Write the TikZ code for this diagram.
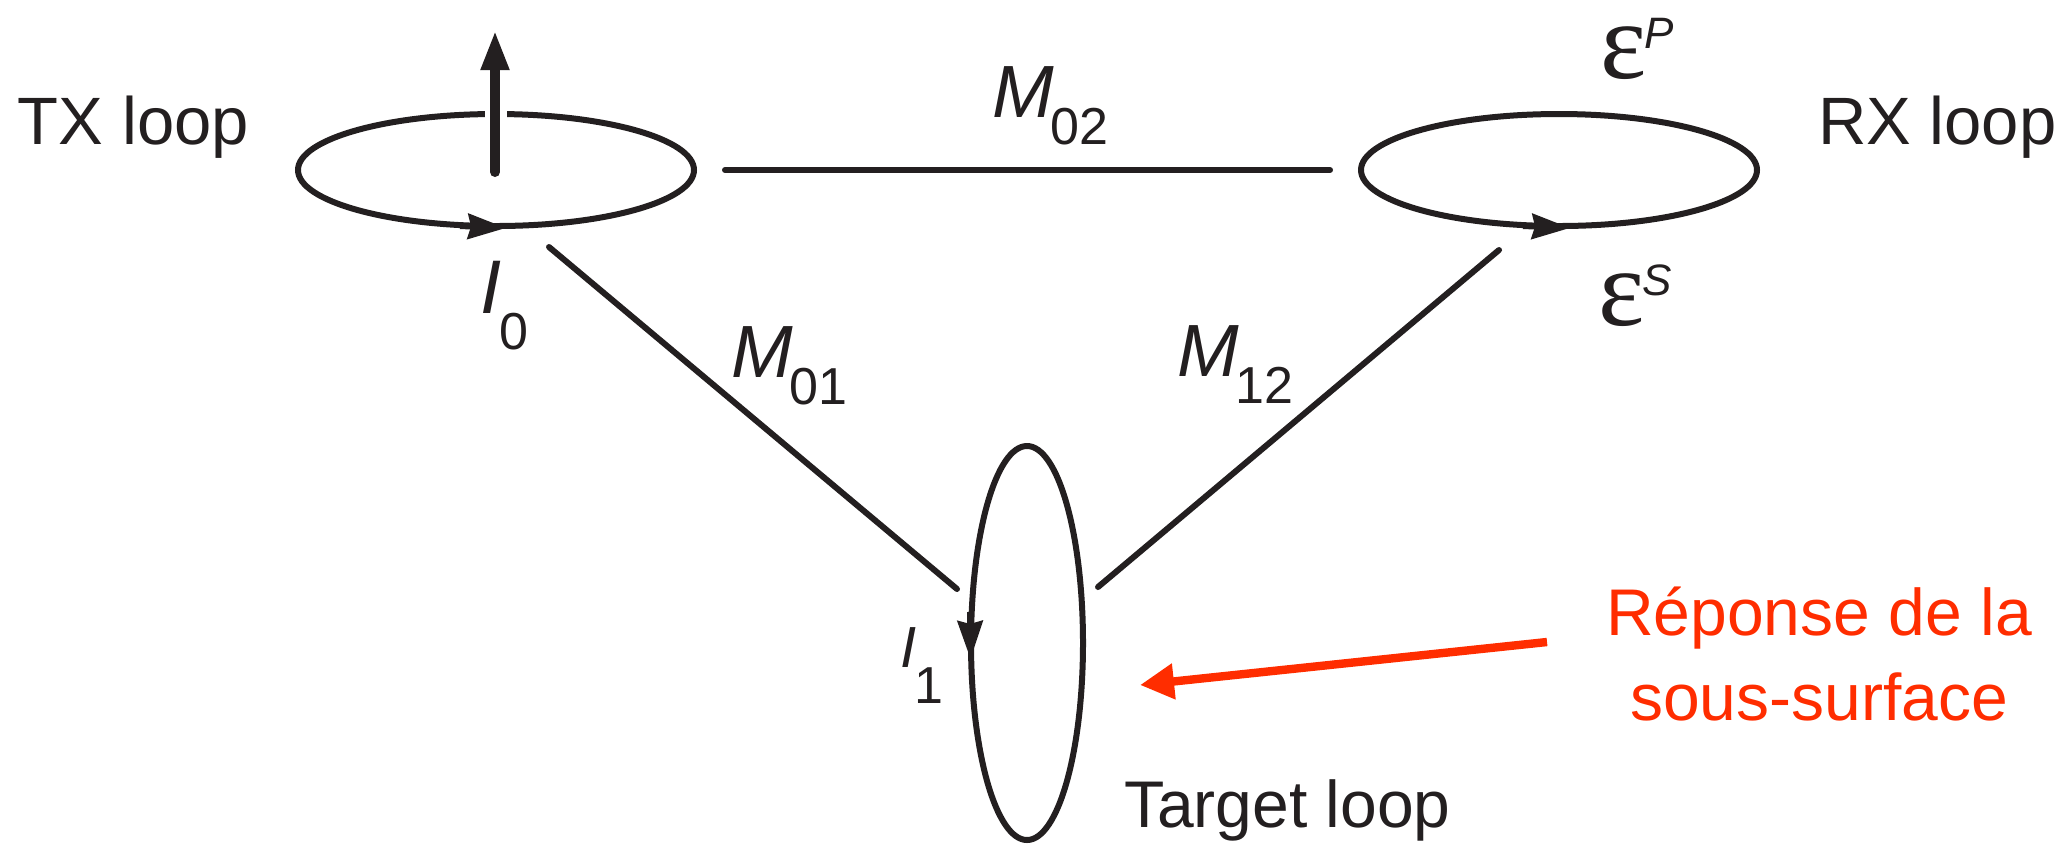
\documentclass[tikz,border=0pt]{standalone}
\usepackage{fontspec}
\setmainfont{Liberation Sans}
\newfontfamily\epsfont{Liberation Serif}
\usetikzlibrary{arrows.meta,shapes.geometric}
\definecolor{ink}{HTML}{231F20}
\definecolor{redmark}{HTML}{FF2D00}
\newcommand{\fs}[1]{\fontsize{#1}{#1}\selectfont}
\newcommand{\mlabel}[2]{{\fs{37}\itshape M}\kern-1.5pt\raisebox{-13.5pt}{\fs{26}#2}}
\newcommand{\ilabel}[3]{{\fs{#3}\itshape I}\kern#2\raisebox{-18pt}{\fs{26}#1}}
\newcommand{\emf}[1]{{\epsfont\fs{55}ε}\kern-1pt\raisebox{15pt}{\fs{22}\itshape #1}}
\tikzset{
  txt/.style={inner sep=0pt,outer sep=0pt,anchor=base west,text=ink},
  redtxt/.style={inner sep=0pt,outer sep=0pt,anchor=base,text=redmark,font=\fs{33}},
  flatloop/.style={draw=ink,line width=3pt,ellipse,inner sep=0pt,outer sep=0pt,minimum width=198pt,minimum height=56pt},
  tallloop/.style={draw=ink,line width=3pt,ellipse,inner sep=0pt,outer sep=0pt,minimum width=56pt,minimum height=197pt},
  link/.style={draw=ink,line width=3pt,line cap=round},
  curarrow/.style={draw=ink,line width=3pt,-{Stealth[length=19pt,width=12.5pt,inset=1.5pt]}},
  moment/.style={draw=ink,line width=5pt,line cap=round,-{Stealth[length=20pt,width=13pt,inset=0pt]}},
  response/.style={draw=redmark,line width=4.2pt,-{Triangle[length=17pt,width=17pt]}}
}
\begin{document}
\begin{tikzpicture}[x=0.5pt,y=-0.5pt]
\useasboundingbox (0,0) rectangle (2071,843);
\node[flatloop] (tx) at (496,170) {};
\node[flatloop] (rx) at (1559,170) {};
\node[tallloop] (target) at (1027,643) {};
% gap in the TX loop where the moment arrow crosses
\coordinate (gapa) at (496,100);
\coordinate (gapb) at (496,125);
\draw[white,line width=11pt] (gapa) -- (gapb);
\coordinate (mbase) at (495,172);
\coordinate (mtip) at (495,30);
\draw[moment] (mbase) -- (mtip);
% current arrows
\coordinate (ia0) at (460,226);
\coordinate (ib0) at (506,228);
\draw[curarrow] (ia0) -- (ib0);
\coordinate (ia2) at (1523,226);
\coordinate (ib2) at (1570,228);
\draw[curarrow] (ia2) -- (ib2);
\coordinate (ia1) at (970,612);
\coordinate (ib1) at (970.5,659);
\draw[curarrow] (ia1) -- (ib1);
% mutual couplings
\coordinate (m02a) at (725,170);
\coordinate (m02b) at (1330,170);
\coordinate (m01a) at (549,247);
\coordinate (m01b) at (957,589);
\coordinate (m12a) at (1499,250);
\coordinate (m12b) at (1098,587);
\draw[link] (m02a) -- (m02b);
\draw[link] (m01a) -- (m01b);
\draw[link] (m12a) -- (m12b);
% response arrow
\coordinate (ra) at (1547,642);
\coordinate (rb) at (1140,685);
\draw[response] (ra) -- (rb);
% labels
\node[txt,font=\fs{33.5}] (txl) at (18,144) {TX loop};
\node[txt,font=\fs{33.5}] (rxl) at (1818,144) {RX loop};
\node[txt,font=\fs{33}] (tgl) at (1124,827) {Target loop};
\node[txt] (m02) at (992,117) {\mlabel{M}{02}};
\node[txt] (m01) at (731,377) {\mlabel{M}{01}};
\node[txt] (m12) at (1177,376) {\mlabel{M}{12}};
\node[txt] (i0) at (480,313) {\ilabel{0}{-1pt}{38}};
\node[txt] (i1) at (900,667) {\ilabel{1}{-1pt}{29}};
\node[txt] (ep) at (1600,78) {\emf{P}};
\node[txt] (es) at (1598,325) {\emf{S}};
\node[redtxt] (r1) at (1819,635) {Réponse de la};
\node[redtxt] (r2) at (1819,720) {sous-surface};
\end{tikzpicture}
\end{document}
